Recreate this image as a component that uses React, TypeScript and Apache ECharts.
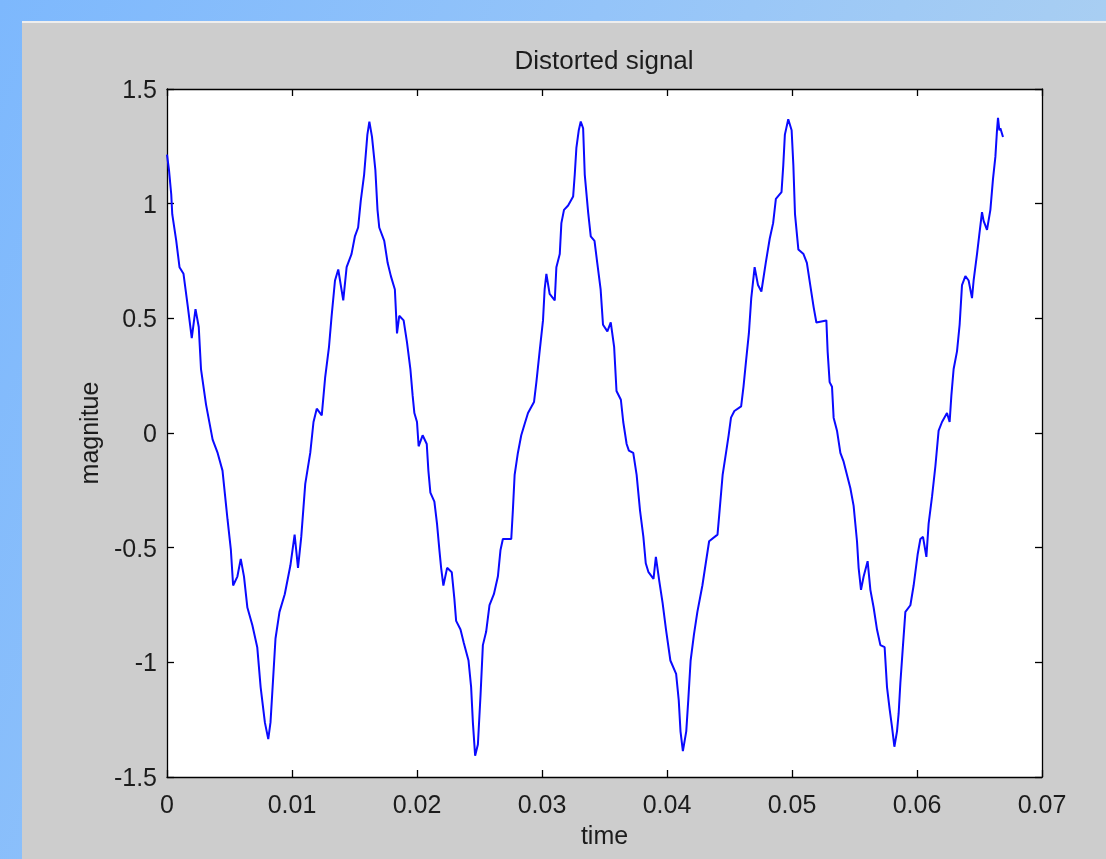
import React, { useEffect, useRef } from "react";
import * as echarts from "echarts";

// time axis values (s)
const TIME: number[] = [
  0, 0.00016, 0.00034, 0.00042, 0.00074, 0.001, 0.00132, 0.00167, 0.00198, 0.00228,
  0.00254, 0.00272, 0.00312, 0.00365, 0.00405, 0.00444, 0.00484, 0.00511, 0.00529, 0.00563,
  0.0059, 0.00616, 0.00643, 0.00683, 0.00722, 0.00749, 0.00783, 0.0081, 0.00828, 0.00847,
  0.00868, 0.009, 0.00942, 0.00987, 0.01021, 0.01048, 0.01074, 0.01106, 0.01146, 0.01172,
  0.01198, 0.01238, 0.01265, 0.01296, 0.01317, 0.01344, 0.0137, 0.0141, 0.01437, 0.01476,
  0.01503, 0.01529, 0.0155, 0.01577, 0.01603, 0.01619, 0.0164, 0.01667,
  0.01684, 0.01698, 0.01738, 0.01765, 0.01791, 0.01823, 0.0184, 0.01858, 0.01893, 0.0192,
  0.01947, 0.01965, 0.01979, 0.02, 0.02013, 0.02045, 0.02078, 0.02091, 0.02107, 0.02139,
  0.0216, 0.02179, 0.02193, 0.02211, 0.02241, 0.02278, 0.02299, 0.02313, 0.02348, 0.02374,
  0.02412, 0.02433, 0.02447, 0.02465, 0.02487, 0.02508, 0.02527, 0.02553, 0.0258, 0.02615,
  0.02647, 0.02668, 0.02687, 0.02754, 0.02767, 0.02781, 0.02807, 0.02834, 0.02861, 0.02888,
  0.02936, 0.02955, 0.02981, 0.03008, 0.03021, 0.03035, 0.03061, 0.03102, 0.03115, 0.03142,
  0.03155, 0.03176, 0.03209, 0.03249, 0.03262, 0.03275, 0.03294, 0.0331, 0.03329, 0.03342,
  0.03369, 0.0339,
  0.0342, 0.03442, 0.03469, 0.03488, 0.03523, 0.0355, 0.03577, 0.03596, 0.03631, 0.0365,
  0.03677, 0.03695, 0.0373, 0.03757, 0.03784, 0.03811, 0.0383, 0.03852, 0.03892, 0.03911,
  0.03938, 0.03965, 0.03992, 0.04027, 0.04073, 0.04094, 0.04108, 0.04127, 0.04154, 0.0417,
  0.04189, 0.04216, 0.04243, 0.04283, 0.0431, 0.04337, 0.04404, 0.04418, 0.04445, 0.04472,
  0.04493, 0.04512, 0.04539, 0.04593, 0.04612, 0.04633, 0.04655, 0.04674, 0.04701, 0.04728,
  0.04755, 0.0479, 0.04822, 0.04849, 0.04871, 0.04916, 0.0493, 0.04943, 0.0497, 0.04997,
  0.05011, 0.05024, 0.05051, 0.05092, 0.05119, 0.05146,
  0.05173, 0.05195, 0.05275, 0.05285, 0.05301, 0.0532, 0.05333, 0.0536, 0.05387, 0.05413,
  0.0544, 0.05467, 0.05493, 0.0552, 0.05533, 0.05552, 0.05573, 0.05605, 0.05627, 0.05653,
  0.0568, 0.05707, 0.05741, 0.0576, 0.05781, 0.058, 0.05819, 0.0584, 0.05853, 0.05867,
  0.05888, 0.05907, 0.05947, 0.05973, 0.06005, 0.06027, 0.06048, 0.06075, 0.06093, 0.0612,
  0.06147, 0.06173, 0.062, 0.0624, 0.06261, 0.06275, 0.06293, 0.0632, 0.06341, 0.0636,
  0.06387, 0.06413, 0.0644, 0.06453, 0.0648, 0.06501, 0.0652, 0.06533, 0.0656, 0.06587,
  0.06608, 0.06627, 0.0664, 0.06648, 0.06659, 0.06667, 0.06688,
];

// signal magnitude at each time
const MAGNITUDE: number[] = [
  1.214, 1.146, 1.04, 0.954, 0.838, 0.723, 0.694, 0.549, 0.414, 0.54,
  0.462, 0.279, 0.125, -0.029, -0.087, -0.164, -0.376, -0.51, -0.665, -0.626,
  -0.549, -0.626, -0.761, -0.838, -0.934, -1.108, -1.262, -1.335, -1.262, -1.089,
  -0.896, -0.78, -0.703, -0.578, -0.443, -0.588, -0.453, -0.222, -0.087, 0.048,
  0.106, 0.077, 0.241, 0.376, 0.511, 0.665, 0.713, 0.578, 0.723, 0.78,
  0.857, 0.896, 1.012, 1.127, 1.301, 1.358, 1.291, 1.146,
  0.973, 0.896, 0.838, 0.742, 0.684, 0.626, 0.434, 0.511, 0.491, 0.395,
  0.279, 0.164, 0.087, 0.048, -0.058, -0.01, -0.048, -0.164, -0.26, -0.299,
  -0.395, -0.51, -0.588, -0.665, -0.588, -0.607, -0.723, -0.819, -0.857, -0.915,
  -0.992, -1.108, -1.262, -1.407, -1.358, -1.146, -0.925, -0.867, -0.751, -0.703,
  -0.626, -0.51, -0.462, -0.462, -0.337, -0.183, -0.087, -0.01, 0.039, 0.087,
  0.135, 0.222, 0.356, 0.491, 0.626, 0.694, 0.607, 0.578, 0.723, 0.78,
  0.915, 0.973, 0.992, 1.031, 1.127, 1.243, 1.32, 1.358, 1.329, 1.127,
  0.963, 0.857,
  0.838, 0.742, 0.626, 0.472, 0.443, 0.482, 0.376, 0.183, 0.145, 0.048,
  -0.048, -0.077, -0.087, -0.183, -0.337, -0.453, -0.568, -0.607, -0.636, -0.54,
  -0.645, -0.742, -0.857, -0.992, -1.05, -1.166, -1.301, -1.387, -1.301, -1.166,
  -0.992, -0.877, -0.78, -0.665, -0.568, -0.472, -0.443, -0.356, -0.183, -0.087,
  -0.01, 0.067, 0.096, 0.116, 0.202, 0.318, 0.434, 0.588, 0.723, 0.645,
  0.617, 0.742, 0.848, 0.915, 1.021, 1.05, 1.166, 1.301, 1.368, 1.32,
  1.166, 0.954, 0.8, 0.78, 0.742, 0.645,
  0.549, 0.482, 0.491, 0.356, 0.222, 0.202, 0.067, 0.01, -0.087, -0.125,
  -0.183, -0.241, -0.318, -0.472, -0.588, -0.684, -0.626, -0.559, -0.684, -0.761,
  -0.857, -0.925, -0.934, -1.108, -1.204, -1.281, -1.368, -1.301, -1.224, -1.089,
  -0.925, -0.78, -0.751, -0.665, -0.53, -0.462, -0.453, -0.54, -0.395, -0.279,
  -0.145, 0.01, 0.048, 0.087, 0.048, 0.164, 0.279, 0.356, 0.472, 0.645,
  0.684, 0.665, 0.588, 0.665, 0.78, 0.877, 0.963, 0.925, 0.886, 0.973,
  1.108, 1.204, 1.32, 1.374, 1.32, 1.329, 1.291,
];

const X_MIN = 0;
const X_MAX = 0.07;
const X_STEP = 0.01;
const Y_MIN = -1.5;
const Y_MAX = 1.5;
const Y_STEP = 0.5;

const TITLE = "Distorted signal";
const X_NAME = "time";
const Y_NAME = "magnitue";

const FONT = "'Liberation Sans', Arial, Helvetica, sans-serif";
const TEXT_COLOR = "#1c1c1c";

const fmt = (v: number) => {
  const r = Math.round(v * 1000) / 1000;
  return String(r);
};

export default function App() {
  const ref = useRef<HTMLDivElement>(null);

  useEffect(() => {
    if (!ref.current) return;
    const chart = echarts.init(ref.current, null, { renderer: "svg" });
    const data = TIME.map((t, i) => [t, MAGNITUDE[i]]);

    const axisCommon = {
      axisLine: { show: true, onZero: false, lineStyle: { color: "#000", width: 1.3 } },
      axisTick: { show: true, inside: true, length: 7, lineStyle: { color: "#000", width: 1.3 } },
      splitLine: { show: false },
    };
    const labelStyle = {
      fontFamily: FONT,
      fontSize: 25,
      color: TEXT_COLOR,
    };

    chart.setOption({
      animation: false,
      backgroundColor: "transparent",
      graphic: [
        {
          type: "rect",
          z: -10,
          silent: true,
          shape: { x: 0, y: 0, width: 1106, height: 859 },
          style: {
            fill: new echarts.graphic.LinearGradient(0, 0, 1, 0.3, [
              { offset: 0, color: "#7db8fd" },
              { offset: 0.5, color: "#94c4f9" },
              { offset: 1, color: "#acd0f1" },
            ]),
          },
        },
        {
          type: "rect",
          z: -9,
          silent: true,
          shape: { x: 22, y: 22, width: 1084, height: 837 },
          style: { fill: "#cdcdcd" },
        },
        {
          type: "line",
          z: -8,
          silent: true,
          shape: { x1: 22, y1: 22, x2: 1106, y2: 22 },
          style: { stroke: "#eeeeee", lineWidth: 2 },
        },
        {
          type: "text",
          z: 10,
          x: 604,
          y: 60,
          style: {
            text: TITLE,
            fontFamily: FONT,
            fontSize: 26,
            fill: TEXT_COLOR,
            textAlign: "center",
            textVerticalAlign: "middle",
          },
        },
      ],
      grid: {
        left: 167,
        top: 89,
        width: 875,
        height: 688,
        show: true,
        backgroundColor: "#ffffff",
        borderWidth: 0,
      },
      xAxis: [
        {
          type: "value",
          position: "bottom",
          min: X_MIN,
          max: X_MAX,
          interval: X_STEP,
          ...axisCommon,
          axisLabel: { ...labelStyle, margin: 14, formatter: fmt, showMinLabel: true, showMaxLabel: true },
          name: X_NAME,
          nameLocation: "middle",
          nameGap: 45,
          nameTextStyle: { ...labelStyle },
        },
        {
          type: "value",
          position: "top",
          min: X_MIN,
          max: X_MAX,
          interval: X_STEP,
          ...axisCommon,
          axisLabel: { show: false },
        },
      ],
      yAxis: [
        {
          type: "value",
          position: "left",
          min: Y_MIN,
          max: Y_MAX,
          interval: Y_STEP,
          ...axisCommon,
          axisLabel: { ...labelStyle, margin: 10, formatter: fmt },
          name: Y_NAME,
          nameLocation: "middle",
          nameGap: 66,
          nameRotate: 90,
          nameTextStyle: { ...labelStyle },
        },
        {
          type: "value",
          position: "right",
          min: Y_MIN,
          max: Y_MAX,
          interval: Y_STEP,
          ...axisCommon,
          axisLabel: { show: false },
        },
      ],
      series: [
        {
          type: "line",
          xAxisIndex: 0,
          yAxisIndex: 0,
          data,
          showSymbol: false,
          symbol: "none",
          lineStyle: { color: "#0a0aff", width: 2 },
          z: 5,
        },
      ],
    });

    return () => chart.dispose();
  }, []);

  return (
    <div
      ref={ref}
      style={{ position: "fixed", left: 0, top: 0, width: 1106, height: 859 }}
    />
  );
}
